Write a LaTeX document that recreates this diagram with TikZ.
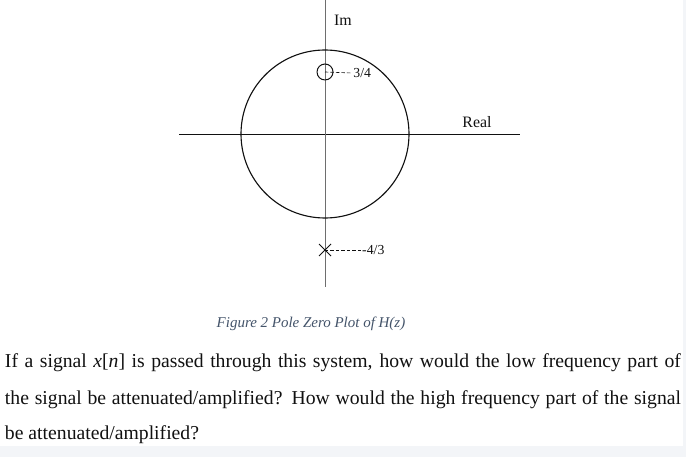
\documentclass[tikz,border=0pt]{standalone}
\usepackage{fontspec}
\setmainfont{Liberation Serif}
\usetikzlibrary{shapes.misc}
\definecolor{pzInk}{HTML}{111111}
\definecolor{pzAxis}{HTML}{6E6E6E}
\definecolor{pzCaption}{HTML}{44546A}
\definecolor{pzPage}{HTML}{F3F5F8}

\begin{document}
\begin{tikzpicture}[
  x=1cm,y=1cm,
  every node/.style={text=pzInk,outer sep=0pt},
  lbl/.style={font=\fontsize{9.8}{11}\selectfont,inner sep=1pt},
  axlbl/.style={font=\fontsize{11.3}{13}\selectfont,inner sep=1pt},
  guide/.style={dashed,dash pattern=on 2.4pt off 1.5pt,line width=0.45pt,draw=pzInk},
  para/.style={anchor=west,inner sep=0pt,font=\fontsize{14}{16}\selectfont}
]
\path[use as bounding box] (0,0) rectangle (17.15,11.425);
\fill[pzPage] (0,0) rectangle (17.15,11.425);
\fill[white] (0,0.275) rectangle (17.075,11.425);
% axes and unit circle
\coordinate (origin) at (8.125,8.075);
\draw[line width=0.6pt,draw=pzInk] (4.475,8.075) -- (13.0,8.075);
\draw[line width=0.5pt,draw=pzAxis] (8.125,11.425) -- (8.125,4.25);
\draw[line width=0.8pt,draw=pzInk] (origin) circle (2.1);
\node[axlbl] (imlabel) at (8.575,10.925) {Im};
\node[axlbl] (relabel) at (11.925,8.375) {Real};
% zero and pole
\node[circle,draw=pzInk,line width=0.7pt,minimum size=0.4cm,inner sep=0pt] (zero) at (8.125,9.625) {};
\node[lbl,anchor=west] (zlabel) at (8.8,9.6) {3/4};
\draw[guide] (zero.center) -- (zlabel.west);
\node[cross out,draw=pzInk,line width=0.7pt,minimum size=0.3cm,inner sep=0pt] (pole) at (8.125,5.175) {};
\node[lbl,anchor=west] (plabel) at (9.02,5.175) {-4/3};
\draw[guide] (pole.center) -- (plabel.west);
% caption and question
\node[font=\itshape\fontsize{10.65}{12}\selectfont,text=pzCaption] (caption) at (7.775,3.325)
  {Figure 2 Pole Zero Plot of H(z)};
\node[para] (q1) at (0.125,2.35)
  {\makebox[16.9cm][s]{If a signal \textit{x}[\textit{n}] is passed through this system, how would the low frequency part of}};
\node[para] (q2) at (0.125,1.43)
  {\makebox[16.9cm][s]{the signal be attenuated/amplified? How would the high frequency part of the signal}};
\node[para] (q3) at (0.125,0.55)
  {be attenuated/amplified?};
\end{tikzpicture}
\end{document}
